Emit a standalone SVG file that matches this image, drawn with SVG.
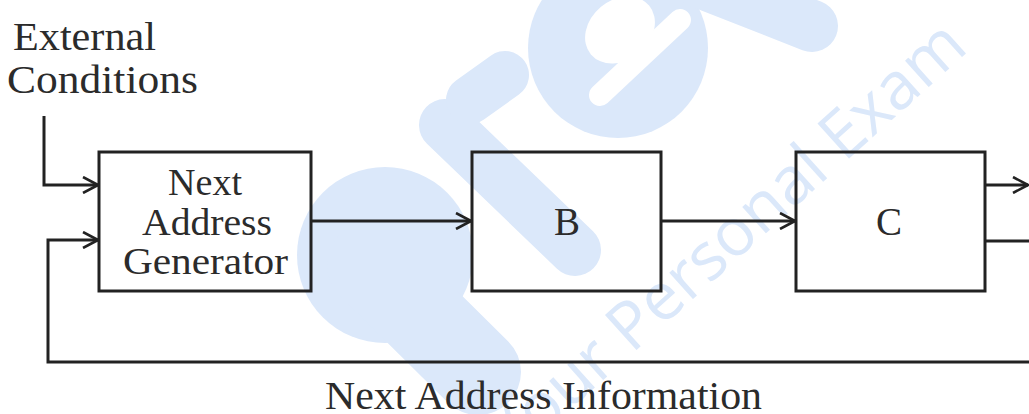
<svg xmlns="http://www.w3.org/2000/svg" width="1029" height="414" viewBox="0 0 1029 414">
  <defs>
    <style>
      .wm { fill: #dbe8fa; }
      .wmline { stroke: #dbe8fa; stroke-linecap: round; fill: none; }
      .box { fill: none; stroke: #222; stroke-width: 3; }
      .wire { fill: none; stroke: #222; stroke-width: 3; }
      .lbl { font-family: "Liberation Serif", "Times New Roman", serif; font-size: 39px; fill: #2b2b2b; }
      .inbox { font-size: 37px; }
      .mid { text-anchor: middle; }
    </style>
    <marker id="chev" viewBox="0 0 18 18" refX="16" refY="9" markerWidth="18" markerHeight="18" markerUnits="userSpaceOnUse" orient="auto">
      <path d="M1,1 L16,9 L1,17" fill="none" stroke="#222" stroke-width="2.6"/>
    </marker>
  </defs>

  <rect width="1029" height="414" fill="#fff"/>

  <!-- background logo mark -->
  <g id="watermark">
    <!-- p -->
    <circle class="wm" cx="385" cy="255" r="88"/>
    <line class="wmline" x1="370" y1="265" x2="478" y2="372" stroke-width="86"/>
    <!-- r -->
    <line class="wmline" x1="445" y1="125" x2="575" y2="250" stroke-width="52"/>
    <line class="wmline" x1="470" y1="100" x2="505" y2="75" stroke-width="48"/>
    <!-- e -->
    <circle class="wm" cx="618" cy="48" r="90"/>
    <line class="wmline" x1="700" y1="-18" x2="812" y2="26" stroke-width="52"/>
    <ellipse cx="620" cy="30" rx="38" ry="30" fill="#fff" transform="rotate(-40 620 30)"/>
    <line x1="600" y1="95" x2="680" y2="20" stroke="#fff" stroke-width="22" stroke-linecap="round"/>
    <text x="512" y="462" transform="rotate(-42 512 462)" font-family="'Open Sans', 'Noto Sans', sans-serif" font-size="66" class="wm">Your Personal Exam</text>
  </g>

  <!-- connectors -->
  <g id="connectors">
    <polyline class="wire" points="44,116 44,185 98,185" marker-end="url(#chev)"/>
    <polyline class="wire" points="1032,241 985,241"/>
    <polyline class="wire" points="1032,362 48,362 48,240 98,240" marker-end="url(#chev)"/>
    <line class="wire" x1="311" y1="221" x2="471" y2="221" marker-end="url(#chev)"/>
    <line class="wire" x1="661" y1="221" x2="795" y2="221" marker-end="url(#chev)"/>
    <line class="wire" x1="985" y1="185" x2="1028" y2="185" marker-end="url(#chev)"/>
  </g>

  <!-- input label -->
  <g id="external">
    <text class="lbl" x="13" y="50" textLength="143" lengthAdjust="spacingAndGlyphs">External</text>
    <text class="lbl" x="7" y="93" textLength="191" lengthAdjust="spacingAndGlyphs">Conditions</text>
  </g>

  <g id="next-address-generator">
    <rect class="box" x="99" y="152" width="212" height="139"/>
    <text class="lbl inbox" x="168" y="195" textLength="74" lengthAdjust="spacingAndGlyphs">Next</text>
    <text class="lbl inbox" x="142" y="235" textLength="130" lengthAdjust="spacingAndGlyphs">Address</text>
    <text class="lbl inbox" x="123" y="274" textLength="165" lengthAdjust="spacingAndGlyphs">Generator</text>
  </g>

  <g id="block-b">
    <rect class="box" x="472" y="152" width="189" height="139"/>
    <text class="lbl mid" x="567" y="235">B</text>
  </g>

  <g id="block-c">
    <rect class="box" x="796" y="152" width="189" height="139"/>
    <text class="lbl mid" x="889" y="235">C</text>
  </g>

  <g id="feedback-label">
    <text class="lbl" x="325" y="409" textLength="437" lengthAdjust="spacingAndGlyphs">Next Address Information</text>
  </g>
</svg>
